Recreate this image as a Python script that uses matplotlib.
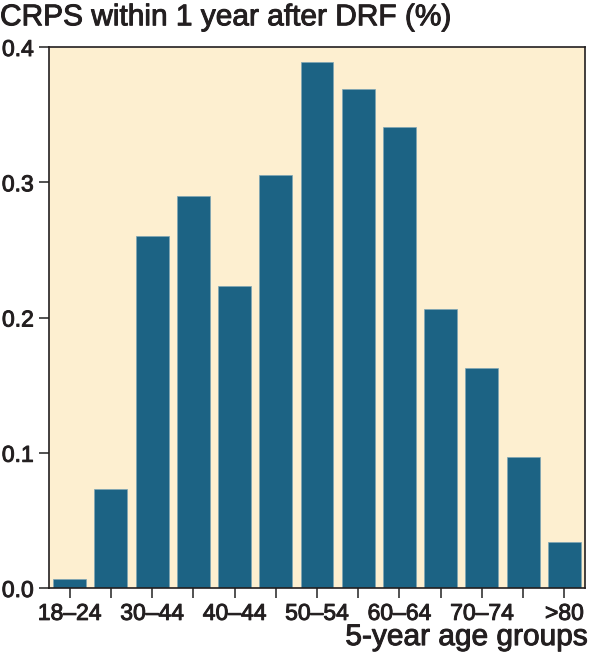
import matplotlib.pyplot as plt
import matplotlib.patheffects as pe

plt.rcParams['font.family'] = ['Liberation Sans', 'DejaVu Sans']

groups = ['18–24', '25–29', '30–34', '35–39', '40–44', '45–49', '50–54',
          '55–59', '60–64', '65–69', '70–74', '75–79', '>80']
tick_labels = ['18–24', '', '30–44', '', '40–44', '', '50–54',
               '', '60–64', '', '70–74', '', '>80']
crps = [0.007, 0.073, 0.260, 0.290, 0.223, 0.305, 0.389,
        0.369, 0.341, 0.206, 0.163, 0.097, 0.034]

ink = '#231f20'
thick = [pe.withStroke(linewidth=0.7, foreground=ink)]

fig = plt.figure(figsize=(5.93, 6.55), dpi=100)
ax = fig.add_axes([49/593, 1 - 588/655, 536/593, 541/655])
ax.set_facecolor('#fdefd0')

x = range(len(groups))
ax.bar(x, crps, width=0.8, color='#1c6384', edgecolor='#7fa6b5', linewidth=0.5)

ax.set_xlim(-0.5, len(groups) - 0.5)
ax.set_ylim(0, 0.4)
ax.set_yticks([0.0, 0.1, 0.2, 0.3, 0.4])
ax.set_yticklabels(['0.0', '0.1', '0.2', '0.3', '0.4'])
ax.set_xticks(list(x))
ax.set_xticklabels(tick_labels)
ax.tick_params(axis='both', labelsize=16.5, length=7, width=1.2, color='#333333',
               labelcolor=ink)
ax.tick_params(axis='x', pad=3)
ax.tick_params(axis='y', pad=4)
for lab in ax.get_xticklabels() + ax.get_yticklabels():
    lab.set_path_effects(thick)
for s in ax.spines.values():
    s.set_linewidth(1.2)
    s.set_color(ink)

fig.text(0.0, 0.995, 'CRPS within 1 year after DRF (%)', fontsize=21.5,
         color=ink, ha='left', va='top', path_effects=thick)
fig.text(588/593, 0.006, '5-year age groups', fontsize=21.5,
         color=ink, ha='right', va='bottom', path_effects=thick)

fig.savefig('out.png', dpi=100)
